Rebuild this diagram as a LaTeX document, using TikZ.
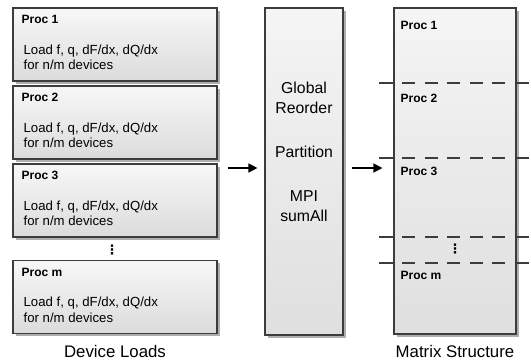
\documentclass[tikz,border=0pt]{standalone}
\usepackage{fontspec}
\setmainfont{Liberation Sans}
\newfontfamily\symfont{DejaVu Sans}
\usetikzlibrary{arrows.meta, positioning, shadows, calc}
\definecolor{boxborder}{RGB}{60, 60, 60}
\definecolor{shadowgray}{RGB}{140, 140, 140}
\tikzstyle{procbox} = [rectangle, minimum width=204pt, minimum height=73pt, draw=boxborder, line width=1.1pt, top color=gray!6, bottom color=gray!28, drop shadow={shadow xshift=2.5pt, shadow yshift=-2.5pt, fill=shadowgray, opacity=0.7}]
\tikzstyle{midbox} = [procbox, minimum width=78pt, minimum height=327pt, top color=gray!8, bottom color=gray!25]
\tikzstyle{matbox} = [procbox, minimum width=122pt, minimum height=326pt, top color=gray!8, bottom color=gray!25]
\tikzstyle{proctitle} = [anchor=west, inner sep=0pt, font=\fontsize{12}{13}\selectfont\bfseries]
\tikzstyle{procbody} = [anchor=west, inner sep=0pt, align=left, font=\fontsize{13.2}{15.5}\selectfont]
\tikzstyle{midtext} = [inner sep=0pt, align=center, font=\fontsize{15.8}{20}\selectfont]
\tikzstyle{caption} = [inner sep=0pt, font=\fontsize{16.8}{18}\selectfont]
\tikzstyle{dots} = [inner sep=0pt, font=\fontsize{13}{13}\symfont\bfseries]
\tikzstyle{rowline} = [draw=boxborder, line width=1.2pt]
\tikzstyle{arrow} = [line width=1.2pt, -{Triangle[length=9pt, width=9pt]}]

\begin{document}
\begin{tikzpicture}[x=1pt, y=-1pt, node distance=78pt]
\useasboundingbox (0,0) rectangle (531,360);

% Device loads
\node (p1) [procbox] at (115,44.5) {};
\node (p2) [procbox, below of=p1] {};
\node (p3) [procbox, below of=p2] {};
\node (pm) [procbox, below of=p3, yshift=-18.5pt] {};

\node (t1) [proctitle] at ([shift={(9pt,-12pt)}]p1.north west) {Proc 1};
\node (t2) [proctitle] at ([shift={(9pt,-12pt)}]p2.north west) {Proc 2};
\node (t3) [proctitle] at ([shift={(9pt,-12pt)}]p3.north west) {Proc 3};
\node (tm) [proctitle] at ([shift={(9pt,-12pt)}]pm.north west) {Proc m};

\node (b1) [procbody] at ([shift={(11pt,-50pt)}]p1.north west) {Load f, q, dF/dx, dQ/dx\\for n/m devices};
\node (b2) [procbody] at ([shift={(11pt,-50pt)}]p2.north west) {Load f, q, dF/dx, dQ/dx\\for n/m devices};
\node (b3) [procbody] at ([shift={(11pt,-50pt)}]p3.north west) {Load f, q, dF/dx, dQ/dx\\for n/m devices};
\node (bm) [procbody] at ([shift={(11pt,-50pt)}]pm.north west) {Load f, q, dF/dx, dQ/dx\\for n/m devices};

\node (ldots) [dots] at (112,250) {⋮};
\node (devcap) [caption] at (pm.south |- 0,351) {Device Loads};

% Global step
\node (mid) [midbox] at (304,171.5) {};
\node (midtxt) [midtext] at ([yshift=19.5pt]mid.center) {Global\\Reorder\\[24pt]Partition\\[24pt]MPI\\sumAll};

% Matrix structure
\node (mat) [matbox] at (455,171) {};
\node (m1) [proctitle] at ($(mat.west |- 0,25)+(7pt,0)$) {Proc 1};
\node (m2) [proctitle] at ($(mat.west |- 0,98)+(7pt,0)$) {Proc 2};
\node (m3) [proctitle] at ($(mat.west |- 0,171)+(7pt,0)$) {Proc 3};
\node (mm) [proctitle] at ($(mat.west |- 0,275)+(7pt,0)$) {Proc m};
\node (mdots) [dots] at (455,249) {⋮};
\node (matcap) [caption] at (mat.south |- 0,351) {Matrix Structure};

\foreach \yy in {83,158,237,263} {
  \draw [rowline] ($(mat.west |- 0,\yy)+(-14pt,0)$) -- (mat.west |- 0,\yy);
  \draw [rowline, dash pattern=on 13pt off 9.5pt, dash phase=13.5pt] (mat.west |- 0,\yy) -- (mat.east |- 0,\yy);
  \draw [rowline] (mat.east |- 0,\yy) -- ($(mat.east |- 0,\yy)+(12pt,0)$);
}

% Arrows
\draw [arrow, shorten <=10pt, shorten >=7pt] (p3.east |- 0,168) -- (mid.west |- 0,168);
\draw [arrow, shorten <=8pt, shorten >=11pt] (mid.east |- 0,168) -- (mat.west |- 0,168);

\end{tikzpicture}
\end{document}
